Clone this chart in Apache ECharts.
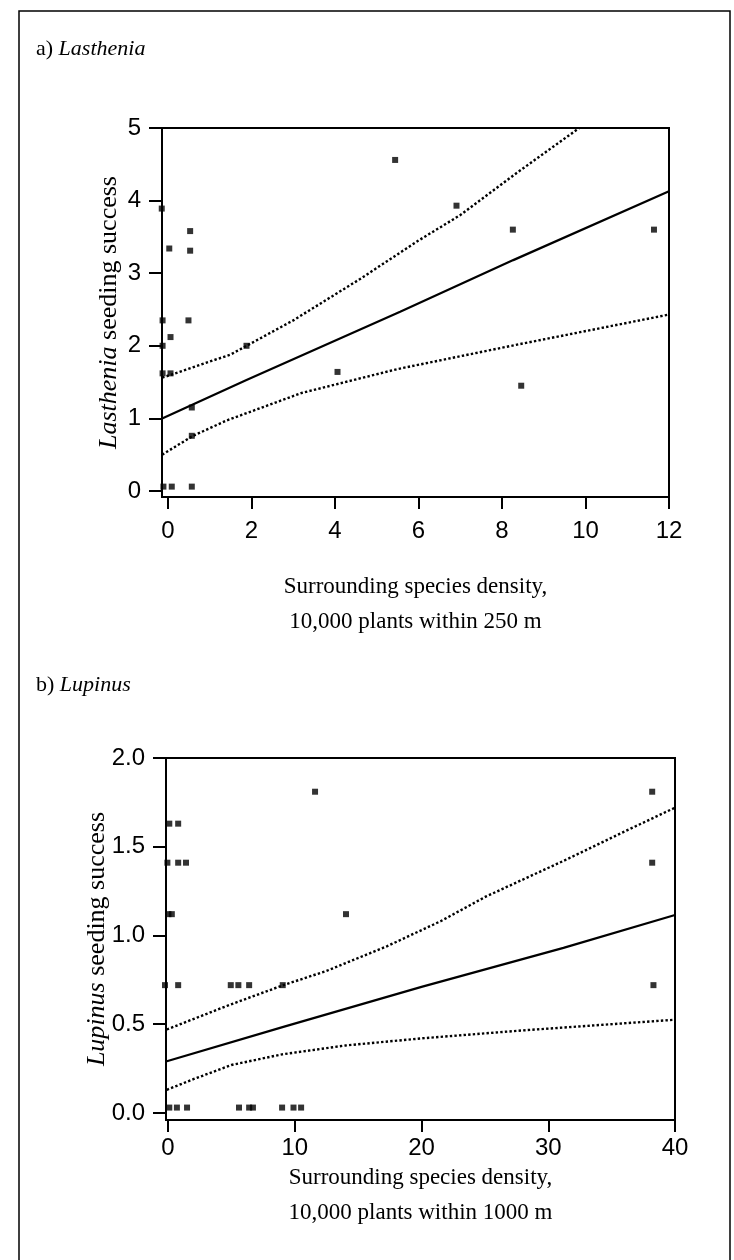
<!DOCTYPE html>
<html>
<head>
<meta charset="utf-8">
<script src="https://cdn.jsdelivr.net/npm/echarts@6/dist/echarts.min.js"></script>
<style>
  html, body { margin: 0; padding: 0; background: #fff; }
  #chart { width: 734px; height: 1260px; }
</style>
</head>
<body>
<div id="chart"></div>
<script>
// a) Lasthenia - observed points
var lastheniaX = [-0.15, 0.53, 0.03, 0.53, -0.13, 0.49, 0.06, -0.13, 1.88, -0.13, 0.06, 4.06, 0.57, 0.57, -0.11, 0.09, 0.57, 5.44, 6.91, 8.26, 11.64, 8.46];
var lastheniaY = [3.89, 3.58, 3.34, 3.31, 2.35, 2.35, 2.12, 2.0, 2.0, 1.62, 1.62, 1.64, 1.15, 0.76, 0.06, 0.06, 0.06, 4.56, 3.93, 3.6, 3.6, 1.45];
// fitted line and confidence bands
var lastheniaFitX = [-0.14, 1.88, 5.56, 8.27, 12];
var lastheniaFitY = [1.0, 1.53, 2.47, 3.18, 4.13];
var lastheniaUpX = [-0.14, 1.5, 3.0, 4.6, 6.0, 7.0, 8.35, 9.85];
var lastheniaUpY = [1.56, 1.88, 2.35, 2.92, 3.45, 3.8, 4.38, 5.0];
var lastheniaLoX = [-0.14, 0.6, 1.4, 3.2, 5.5, 8.4, 12];
var lastheniaLoY = [0.5, 0.76, 0.97, 1.35, 1.68, 2.02, 2.43];
var lastheniaXTicks = [0, 2, 4, 6, 8, 10, 12];
var lastheniaYTicks = [0, 1, 2, 3, 4, 5];

// b) Lupinus - observed points
var lupinusX = [11.6, 0.1, 0.8, -0.05, 0.8, 1.42, 0.03, 0.3, 14.04, -0.24, 0.8, 4.95, 5.55, 6.4, 9.05,
  38.2, 38.2, 38.3, 0.1, 0.7, 1.5, 5.6, 6.4, 6.7, 9.0, 9.9, 10.5];
var lupinusY = [1.81, 1.63, 1.63, 1.41, 1.41, 1.41, 1.12, 1.12, 1.12, 0.72, 0.72, 0.72, 0.72, 0.72, 0.72,
  1.81, 1.41, 0.72, 0.03, 0.03, 0.03, 0.03, 0.03, 0.03, 0.03, 0.03, 0.03];
var lupinusFitX = [-0.16, 9.1, 20, 31.2, 40];
var lupinusFitY = [0.29, 0.485, 0.71, 0.93, 1.115];
var lupinusUpX = [-0.1, 4.9, 9.1, 12.5, 17.3, 21.5, 25.1, 31.2, 35.7, 40];
var lupinusUpY = [0.47, 0.61, 0.72, 0.8, 0.94, 1.08, 1.22, 1.42, 1.575, 1.72];
var lupinusLoX = [-0.1, 2, 5, 9, 14, 20, 28, 33, 40];
var lupinusLoY = [0.13, 0.19, 0.27, 0.33, 0.38, 0.42, 0.465, 0.49, 0.525];
var lupinusXTicks = [0, 10, 20, 30, 40];
var lupinusYTicks = [0, 0.5, 1, 1.5, 2];

function pairs(xs, ys) {
  return xs.map(function (x, i) { return [x, ys[i]]; });
}

var serif = "'Liberation Serif', 'Times New Roman', serif";
var sans = "'Liberation Sans', Arial, sans-serif";

function xAxisOf(gridIndex, min, max, ticks, name, labelMargin, gap) {
  return {
    type: "value", gridIndex: gridIndex, min: min, max: max,
    axisLine: { onZero: false, lineStyle: { color: "#000", width: 2 } },
    axisTick: { customValues: ticks, length: 12, lineStyle: { color: "#000", width: 2 } },
    axisLabel: { customValues: ticks, color: "#000", fontFamily: sans, fontSize: 24, margin: labelMargin },
    splitLine: { show: false },
    name: name, nameLocation: "middle", nameGap: gap, nameMoveOverlap: false,
    nameTextStyle: { color: "#000", fontFamily: serif, fontSize: 23, lineHeight: 35 },
  };
}

function yAxisOf(gridIndex, min, max, ticks, name, fmt, gap) {
  return {
    type: "value", gridIndex: gridIndex, min: min, max: max,
    axisLine: { onZero: false, lineStyle: { color: "#000", width: 2 } },
    axisTick: { customValues: ticks, length: 13, lineStyle: { color: "#000", width: 2 } },
    axisLabel: { customValues: ticks, color: "#000", fontFamily: sans, fontSize: 24, margin: 21, formatter: fmt },
    splitLine: { show: false },
    name: name, nameLocation: "middle", nameGap: gap, nameRotate: 90, nameMoveOverlap: false,
    nameTextStyle: {
      color: "#000", fontFamily: serif, fontSize: 26,
      rich: { i: { fontStyle: "italic", fontFamily: serif, fontSize: 26, color: "#000" } },
    },
  };
}

function lineSeries(idx, data, dotted) {
  return {
    type: "line", xAxisIndex: idx, yAxisIndex: idx, data: data,
    symbol: "none", silent: true, clip: true,
    lineStyle: { color: "#000", width: dotted ? 2.4 : 2.2, type: dotted ? [2.4, 2.2] : "solid" },
  };
}

function pointSeries(idx, data) {
  return {
    type: "scatter", xAxisIndex: idx, yAxisIndex: idx, data: data,
    symbol: "rect", symbolSize: 6, itemStyle: { color: "#000" }, z: 5, clip: false,
  };
}

var titleRich = {
  n: { fontFamily: serif, fontSize: 22, fontWeight: "normal", color: "#000" },
  i: { fontFamily: serif, fontSize: 22, fontWeight: "normal", fontStyle: "italic", color: "#000" },
};

var chart = echarts.init(document.getElementById("chart"));
chart.setOption({
  animation: false,
  backgroundColor: "#fff",
  title: [
    { text: "{n|a) }{i|Lasthenia}", left: 31, top: 33, textStyle: { fontWeight: "normal", rich: titleRich } },
    { text: "{n|b) }{i|Lupinus}", left: 31, top: 669, textStyle: { fontWeight: "normal", rich: titleRich } },
  ],
  graphic: [
    {
      type: "polyline", silent: true,
      shape: { points: [[19, 1262], [19, 11], [730, 11], [730, 1262]] },
      style: { stroke: "#000", lineWidth: 1.5, fill: null },
    },
  ],
  grid: [
    { left: 162, top: 128, width: 507, height: 369, show: true, borderColor: "#000", borderWidth: 2, backgroundColor: "transparent" },
    { left: 166, top: 758, width: 509, height: 362, show: true, borderColor: "#000", borderWidth: 2, backgroundColor: "transparent" },
  ],
  xAxis: [
    xAxisOf(0, -0.144, 12, lastheniaXTicks, "Surrounding species density,\n10,000 plants within 250 m", 22, 72),
    xAxisOf(1, -0.16, 40, lupinusXTicks, "Surrounding species density,\n10,000 plants within 1000 m", 16, 40),
  ],
  yAxis: [
    yAxisOf(0, -0.083, 5, lastheniaYTicks, "{i|Lasthenia} seeding success", function (v) { return String(v); }, 40),
    yAxisOf(1, -0.04, 2, lupinusYTicks, "{i|Lupinus} seeding success", function (v) { return v.toFixed(1); }, 56),
  ],
  series: [
    lineSeries(0, pairs(lastheniaFitX, lastheniaFitY), false),
    lineSeries(0, pairs(lastheniaUpX, lastheniaUpY), true),
    lineSeries(0, pairs(lastheniaLoX, lastheniaLoY), true),
    pointSeries(0, pairs(lastheniaX, lastheniaY)),
    lineSeries(1, pairs(lupinusFitX, lupinusFitY), false),
    lineSeries(1, pairs(lupinusUpX, lupinusUpY), true),
    lineSeries(1, pairs(lupinusLoX, lupinusLoY), true),
    pointSeries(1, pairs(lupinusX, lupinusY)),
  ],
});
</script>
</body>
</html>
